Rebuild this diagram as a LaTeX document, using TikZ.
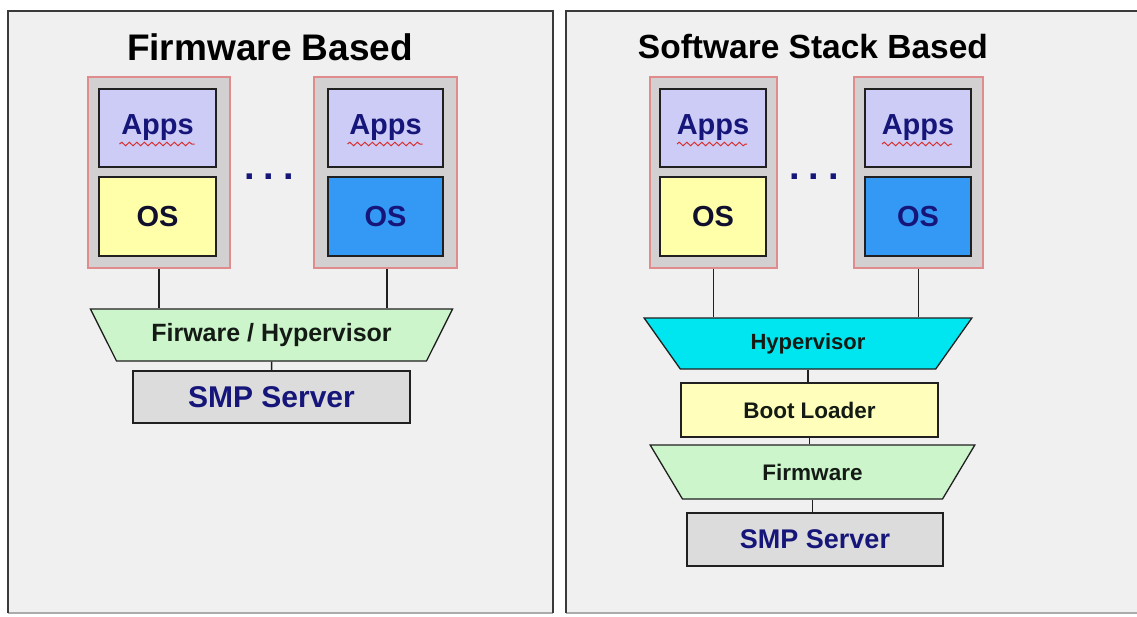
\documentclass[tikz,border=0pt]{standalone}
\usepackage{fontspec}
\setmainfont{Liberation Sans}
\usetikzlibrary{shapes.geometric,decorations.pathmorphing,calc}
\definecolor{panelbg}{HTML}{F0F0F0}
\definecolor{paneldark}{HTML}{3A3A3A}
\definecolor{panellight}{HTML}{ABABAB}
\definecolor{vmgray}{HTML}{D2D0D0}
\definecolor{vmpink}{HTML}{E08C8C}
\definecolor{appsfill}{HTML}{CCCCF6}
\definecolor{osyellow}{HTML}{FFFFAA}
\definecolor{osblue}{HTML}{3399F5}
\definecolor{navytext}{HTML}{16167A}
\definecolor{darktext}{HTML}{141A14}
\definecolor{ostext}{HTML}{10102E}
\definecolor{greenfill}{HTML}{CCF5CC}
\definecolor{cyanfill}{HTML}{00E6F0}
\definecolor{bootfill}{HTML}{FFFFBB}
\definecolor{smpfill}{HTML}{DCDCDC}
\definecolor{linecol}{HTML}{202020}
\definecolor{squiggle}{HTML}{D83030}
\tikzset{
  vmframe/.style={draw=vmpink, fill=vmgray, line width=1.3pt, inner sep=0pt, minimum height=191},
  appsbox/.style={draw=linecol, fill=appsfill, line width=1.6pt, inner sep=0pt, minimum height=78,
    text=navytext, font=\bfseries\fontsize{29}{30}\selectfont},
  osbox/.style={draw=linecol, line width=1.6pt, inner sep=0pt, minimum height=79,
    font=\bfseries\fontsize{29}{30}\selectfont},
  layertrap/.style={draw=linecol, line width=1.3pt, inner sep=2pt, trapezium, shape border rotate=180,
    trapezium stretches=true, text=darktext},
  layerbox/.style={draw=linecol, line width=1.3pt, inner sep=0pt},
  smpbox/.style={draw=linecol, fill=smpfill, line width=1.3pt, inner sep=0pt, text=navytext},
  titletext/.style={font=\bfseries, text=black, inner sep=0pt},
  dotstext/.style={text=navytext, inner sep=0pt, font=\bfseries\fontsize{38}{40}\selectfont, text depth=0pt},
  conn/.style={draw=linecol, line width=1.5pt},
  wavy/.style={draw=squiggle, line width=1pt, decorate,
    decoration={snake, segment length=7.5pt, amplitude=1.8pt}},
}
\begin{document}
\begin{tikzpicture}[x=1pt,y=-1pt]
\useasboundingbox (0,0) rectangle (1137,616);
\fill[white] (0,0) rectangle (1137,616);
% panels
\fill[panelbg] (8,11) rectangle (553,613);
\fill[panelbg] (566,11) rectangle (1137,613);
\draw[panellight, line width=1.8pt] (8,613) -- (553,613);
\draw[panellight, line width=1.8pt] (566,613) -- (1137,613);
\draw[paneldark, line width=2.4pt] (8,613) -- (8,11) -- (553,11) -- (553,613);
\draw[paneldark, line width=2.4pt] (566,613) -- (566,11) -- (1137,11);

% ---------- left panel ----------
\node[titletext, font=\bfseries\fontsize{37}{40}\selectfont] (ltitle) at (270,47) {Firmware Based};

\node[vmframe, minimum width=142] (lvm1) at (159,172.5) {};
\node[appsbox, minimum width=117] (lapps1) at (157.5,128) {Apps};
\node[osbox, fill=osyellow, text=ostext, minimum width=117] (los1) at (157.5,216.5) {OS};

\node[vmframe, minimum width=143] (lvm2) at (385.5,172.5) {};
\node[appsbox, minimum width=115] (lapps2) at (385.5,128) {Apps};
\node[osbox, fill=osblue, text=navytext, minimum width=115] (los2) at (385.5,216.5) {OS};

\draw[wavy] ($(lapps1.center)+(-38,16)$) -- ($(lapps1.center)+(37,16)$);
\draw[wavy] ($(lapps2.center)+(-38,16)$) -- ($(lapps2.center)+(37,16)$);

\node[dotstext] (ldots) at (269,177) {.\hspace{9pt}.\hspace{9pt}.};

\node[layertrap, fill=greenfill, minimum width=363, minimum height=52, trapezium angle=53,
  font=\bfseries\fontsize{25}{26}\selectfont] (lfh) at (271.5,335) {Firware / Hypervisor};

\node[smpbox, minimum width=277, minimum height=52, font=\bfseries\fontsize{30}{31}\selectfont] (lsmp) at (271.5,397) {SMP Server};

\draw[conn] (lvm1.south) -- (lvm1.south |- lfh.north);
\draw[conn] ([xshift=1.5]lvm2.south) -- ([xshift=1.5]lvm2.south |- lfh.north);
\draw[conn] (lfh.south) -- (lsmp.north);

% ---------- right panel ----------
\node[titletext, font=\bfseries\fontsize{33.5}{36}\selectfont] (rtitle) at (813,47) {Software Stack Based};

\node[vmframe, minimum width=127] (rvm1) at (713.5,172.5) {};
\node[appsbox, minimum width=106] (rapps1) at (713,128) {Apps};
\node[osbox, fill=osyellow, text=ostext, minimum width=106] (ros1) at (713,216.5) {OS};

\node[vmframe, minimum width=129] (rvm2) at (918.5,172.5) {};
\node[appsbox, minimum width=106] (rapps2) at (918,128) {Apps};
\node[osbox, fill=osblue, text=navytext, minimum width=106] (ros2) at (918,216.5) {OS};

\draw[wavy] ($(rapps1.center)+(-36,16)$) -- ($(rapps1.center)+(34,16)$);
\draw[wavy] ($(rapps2.center)+(-36,16)$) -- ($(rapps2.center)+(34,16)$);

\node[dotstext] (rdots) at (814,177) {.\hspace{9pt}.\hspace{9pt}.};

\node[layertrap, fill=cyanfill, minimum width=328, minimum height=51, trapezium angle=55.5,
  font=\bfseries\fontsize{22}{24}\selectfont] (hyp) at (808,343.5) {Hypervisor};

\node[layerbox, fill=bootfill, minimum width=257, minimum height=54, text=darktext,
  font=\bfseries\fontsize{22.5}{24}\selectfont] (boot) at (809.5,410) {Boot Loader};

\node[layertrap, fill=greenfill, minimum width=325, minimum height=54, trapezium angle=57.8,
  font=\bfseries\fontsize{22.5}{24}\selectfont] (fw) at (812.5,472) {Firmware};

\node[smpbox, minimum width=256, minimum height=53, font=\bfseries\fontsize{27}{29}\selectfont] (rsmp) at (815,539.5) {SMP Server};

\draw[conn] (rvm1.south) -- (rvm1.south |- hyp.north);
\draw[conn] (rvm2.south) -- (rvm2.south |- hyp.north);
\draw[conn] (hyp.south) -- (hyp.south |- boot.north);
\draw[conn] (boot.south) -- (boot.south |- fw.north);
\draw[conn] (fw.south) -- (fw.south |- rsmp.north);
\end{tikzpicture}
\end{document}
